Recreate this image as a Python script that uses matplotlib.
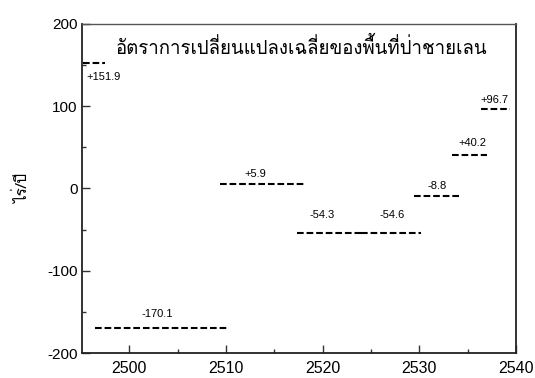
import matplotlib
matplotlib.use("Agg")
from matplotlib import pyplot as plt
from matplotlib import font_manager
from matplotlib.ft2font import FT2Font
from matplotlib.ticker import MultipleLocator

## period boundaries (พ.ศ.) and mean rate of change for each period
seg_start = [2495.2, 2496.5, 2509.4, 2517.3, 2524.0, 2529.4, 2533.4, 2536.4]
seg_end = [2497.5, 2510.3, 2518.3, 2524.0, 2530.2, 2534.3, 2537.0, 2539.4]
rates = [151.9, -170.1, 5.9, -54.3, -54.6, -8.8, 40.2, 96.7]

## where each value label sits, in years, and its pixel offset from the line
label_x = [2497.3, 2502.9, 2513.0, 2519.9, 2527.2, 2531.8, 2535.5, 2537.8]
label_dy = [-14, 14, 10, 18, 18, 10, 12, 9]

title = "อัตราการเปลี่ยนแปลงเฉลี่ยของพื้นที่ป่าชายเลน"
ylabel = "ไร่/ปี"


def find_thai_font():
    ## first installed family that has Thai glyphs
    for f in font_manager.fontManager.ttflist:
        try:
            if 0x0E2D in FT2Font(f.fname).get_charmap():
                return f.name
        except Exception:
            continue
    return "DejaVu Sans"


thai = find_thai_font()
plt.rcParams["font.family"] = ["Liberation Sans", "DejaVu Sans"]
plt.rcParams["axes.unicode_minus"] = False

fig = plt.figure(figsize=(5.35, 3.78), dpi=100)
ax = fig.add_axes([0.153, 0.066, 0.8115, 0.871])

for x0, x1, v in zip(seg_start, seg_end, rates):
    ax.plot([x0, x1], [v, v], color="black", lw=1.5, ls=(0, (3.2, 1.4)))

for lx, v, dy in zip(label_x, rates, label_dy):
    ax.annotate("{:+.1f}".format(v).replace("+-", "-"), xy=(lx, v),
                xytext=(0, dy), textcoords="offset pixels",
                ha="center", va="center", fontsize=8)

ax.set_xlim(2495.1, 2540)
ax.set_ylim(-200, 200)
ax.xaxis.set_major_locator(MultipleLocator(10))
ax.xaxis.set_minor_locator(MultipleLocator(5))
ax.yaxis.set_major_locator(MultipleLocator(100))
ax.yaxis.set_minor_locator(MultipleLocator(50))
ax.tick_params(which="both", direction="in", color="#333333")
ax.tick_params(which="major", length=6, width=1)
ax.tick_params(which="minor", length=3, width=1)
ax.tick_params(axis="x", pad=6, labelsize=11.5)
ax.tick_params(axis="y", pad=3, labelsize=11)

for side in ["left", "bottom", "right"]:
    ax.spines[side].set_linewidth(1.3)
    ax.spines[side].set_color("#222222")
ax.spines["top"].set_linewidth(1.0)
ax.spines["top"].set_color("#555555")

ax.text(0.505, 0.927, title, transform=ax.transAxes, ha="center", va="center",
        fontsize=13.4, family=[thai, "DejaVu Sans"])
fig.text(0.043, 0.50, ylabel, rotation=90, ha="center", va="center",
         fontsize=11, family=[thai, "DejaVu Sans"])

fig.savefig("out.png", dpi=100)
